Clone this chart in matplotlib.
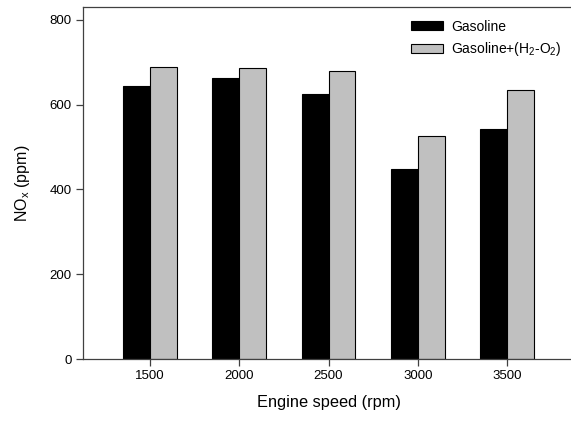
import numpy as np
import matplotlib.pyplot as plt

plt.rcParams['font.family'] = ['Liberation Sans', 'DejaVu Sans']
plt.rcParams['mathtext.default'] = 'regular'

speeds = [1500, 2000, 2500, 3000, 3500]
gasoline = [644, 663, 625, 448, 542]
gasoline_h2o2 = [689, 687, 680, 527, 635]
labels = ['Gasoline', 'Gasoline+(H$_2$-O$_2$)']

fig = plt.figure(figsize=(5.71, 4.24), dpi=100)
ax = fig.add_axes([83/571, 1 - 359/424, 491/571, 352/424])

x = np.array(speeds)
w = 150
ax.bar(x - w/2, gasoline, w, color='black', edgecolor='black', linewidth=0.8, label=labels[0])
ax.bar(x + w/2, gasoline_h2o2, w, color='#c0c0c0', edgecolor='black', linewidth=0.8, label=labels[1])

ax.set_xlim(1125, 3875)
ax.set_ylim(0, 830)
ax.set_xticks(speeds)
ax.set_yticks([0, 200, 400, 600, 800])
ax.spines['right'].set_visible(False)
for s in ['left', 'top', 'bottom']:
    ax.spines[s].set_color('#404040')
    ax.spines[s].set_linewidth(0.9)
ax.tick_params(direction='out', length=5, width=0.9, color='#404040', labelsize=9.5, pad=3)

ax.set_xlabel('Engine speed (rpm)', fontsize=11.8, labelpad=9)
ax.set_ylabel('NO$_x$ (ppm)', fontsize=11.5, labelpad=13)

ax.legend(loc='upper left', bbox_to_anchor=(405/571, 1 - 14/424), bbox_transform=fig.transFigure,
          frameon=False, fontsize=10, handlelength=2.3, handleheight=0.65, handletextpad=0.6,
          labelspacing=0.5, borderaxespad=0)

plt.savefig('out.png', dpi=100)
